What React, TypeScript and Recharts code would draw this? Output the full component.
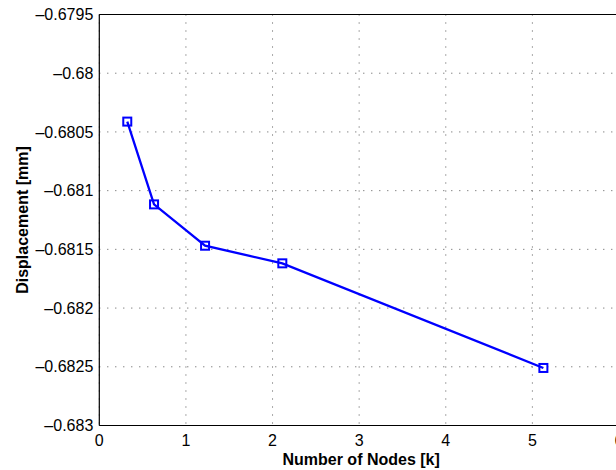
import React from 'react';
import { LineChart, Line, XAxis, YAxis, CartesianGrid, ReferenceLine } from 'recharts';

const nodes = [0.323, 0.632, 1.221, 2.113, 5.127];
const displacement = [-0.680412, -0.681117, -0.681469, -0.681619, -0.68251];
const xTicks = [0, 1, 2, 3, 4, 5, 6];
const yTicks = [-0.683, -0.6825, -0.682, -0.6815, -0.681, -0.6805, -0.68, -0.6795];
const yTickLabels = ['\u20130.683', '\u20130.6825', '\u20130.682', '\u20130.6815', '\u20130.681', '\u20130.6805', '\u20130.68', '\u20130.6795'];

const data = nodes.map((n, i) => ({ x: n, y: displacement[i] }));

const FONT = '"Liberation Sans", Arial, Helvetica, sans-serif';

const SquareDot = (props: any) => {
  const { cx, cy, index } = props;
  if (cx == null || cy == null) return <g key={index} />;
  return (
    <rect key={index} x={cx - 4} y={cy - 4} width={8} height={8} fill="none" stroke="#0000ff" strokeWidth={2} />
  );
};

const yFmt = (v: number) => {
  const i = yTicks.findIndex((t) => Math.abs(t - v) < 1e-9);
  return i >= 0 ? yTickLabels[i] : String(v);
};

export default function App() {
  return (
    <div style={{ position: 'absolute', left: 0, top: 0, width: 616, height: 470, overflow: 'hidden', background: '#fff' }}>
      <LineChart
        width={640}
        height={470}
        data={data}
        margin={{ top: 14.5, right: 21, bottom: 0, left: 0 }}
      >
        <CartesianGrid stroke="#555" strokeDasharray="1 7" strokeWidth={1} />
        <XAxis
          type="number"
          dataKey="x"
          domain={[0, 6]}
          ticks={xTicks}
          interval={0}
          height={44.5}
          tickLine={false}
          tickSize={0}
          tickMargin={9}
          axisLine={{ stroke: '#000', strokeWidth: 1.2 }}
          tick={{ fill: '#000', fontSize: 16, fontFamily: FONT }}
          label={{ value: 'Number of Nodes [k]', position: 'insideBottom', offset: 5, dx: 2, style: { fill: '#000', fontSize: 16, fontWeight: 'bold', fontFamily: FONT } }}
        />
        <YAxis
          type="number"
          dataKey="y"
          domain={[-0.683, -0.6795]}
          ticks={yTicks}
          interval={0}
          width={99.3}
          tickLine={false}
          tickSize={0}
          tickMargin={6}
          tickFormatter={yFmt}
          axisLine={{ stroke: '#000', strokeWidth: 1.2 }}
          tick={{ fill: '#000', fontSize: 16, fontFamily: FONT }}
          label={{ value: 'Displacement [mm]', angle: -90, position: 'insideLeft', offset: 22, style: { textAnchor: 'middle', fill: '#000', fontSize: 16, fontWeight: 'bold', fontFamily: FONT } }}
        />
        <ReferenceLine y={-0.6795} stroke="#000" strokeWidth={1.2} />
        <Line
          type="linear"
          dataKey="y"
          stroke="#0000ff"
          strokeWidth={2.3}
          dot={<SquareDot />}
          activeDot={false}
          isAnimationActive={false}
        />
      </LineChart>
    </div>
  );
}
